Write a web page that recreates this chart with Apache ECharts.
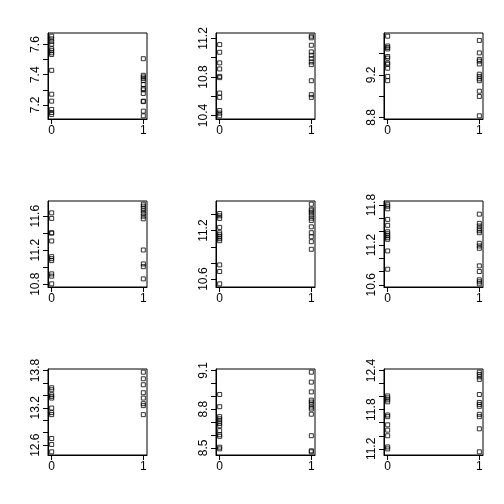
<!DOCTYPE html>
<html>
<head>
<meta charset="UTF-8">
<title>Scatter grid</title>
<script src="https://cdn.jsdelivr.net/npm/echarts@6/dist/echarts.min.js"></script>
</head>
<body style="margin:0;background:#fff">
<div id="chart" style="width:504px;height:504px;"></div>
<script>
// x positions of the two groups
var xGroups = [0, 1];

// panel 1 (row 1, col 1)
var p1Group0 = [7.655, 7.637, 7.62, 7.602, 7.572, 7.559, 7.545, 7.534, 7.429, 7.271, 7.225, 7.17, 7.15, 7.137];
var p1Group1 = [7.506, 7.396, 7.385, 7.374, 7.361, 7.335, 7.309, 7.30, 7.276, 7.225, 7.222, 7.159, 7.128];
var p1Ticks = [7.2, 7.3, 7.4, 7.5, 7.6];
var p1Labels = [7.2, 7.4, 7.6];

// panel 2
var p2Group0 = [11.136, 11.056, 10.946, 10.883, 10.806, 10.793, 10.633, 10.588, 10.452, 10.425, 10.397];
var p2Group1 = [11.223, 11.206, 11.129, 11.06, 11.025, 10.99, 10.956, 10.928, 10.761, 10.616, 10.588];
var p2Ticks = [10.4, 10.6, 10.8, 11.0, 11.2];
var p2Labels = [10.4, 10.8, 11.2];

// panel 3
var p3Group0 = [9.563, 9.471, 9.456, 9.443, 9.372, 9.357, 9.311, 9.299, 9.262, 9.185, 9.145];
var p3Group1 = [9.523, 9.406, 9.345, 9.329, 9.302, 9.206, 9.185, 9.163, 9.145, 9.046, 8.997, 8.815];
var p3Ticks = [8.8, 9.0, 9.2, 9.4];
var p3Labels = [8.8, 9.2];

// panel 4 (row 2)
var p4Group0 = [11.639, 11.574, 11.405, 11.40, 11.308, 11.124, 11.10, 11.077, 10.921, 10.894, 10.804];
var p4Group1 = [11.741, 11.718, 11.691, 11.663, 11.632, 11.60, 11.569, 11.202, 11.038, 11.006, 10.862];
var p4Ticks = [10.8, 11.0, 11.2, 11.4, 11.6];
var p4Labels = [10.8, 11.2, 11.6];

// panel 5
var p5Group0 = [11.412, 11.383, 11.351, 11.24, 11.174, 11.149, 11.124, 11.10, 11.075, 10.776, 10.694, 10.542];
var p5Group1 = [11.527, 11.465, 11.445, 11.42, 11.391, 11.354, 11.326, 11.247, 11.174, 11.124, 11.063, 10.969];
var p5Ticks = [10.6, 10.8, 11.0, 11.2, 11.4];
var p5Labels = [10.6, 11.2];

// panel 6
var p6Group0 = [11.814, 11.784, 11.744, 11.585, 11.495, 11.399, 11.369, 11.339, 11.309, 11.285, 11.11, 10.835];
var p6Group1 = [11.664, 11.525, 11.485, 11.444, 11.414, 11.384, 11.225, 11.185, 11.15, 10.885, 10.80, 10.675, 10.645, 10.615];
var p6Ticks = [10.6, 10.8, 11.0, 11.2, 11.4, 11.6, 11.8];
var p6Labels = [10.6, 11.2, 11.8];

// panel 7 (row 3)
var p7Group0 = [13.523, 13.491, 13.411, 13.384, 13.357, 13.197, 13.123, 13.091, 12.707, 12.611, 12.493];
var p7Group1 = [13.773, 13.667, 13.571, 13.443, 13.357, 13.267, 13.235, 13.091];
var p7Ticks = [12.6, 12.8, 13.0, 13.2, 13.4, 13.6, 13.8];
var p7Labels = [12.6, 13.2, 13.8];

// panel 8
var p8Group0 = [8.914, 8.819, 8.742, 8.725, 8.707, 8.689, 8.671, 8.633, 8.602, 8.589, 8.505, 8.492];
var p8Group1 = [9.087, 9.01, 8.934, 8.87, 8.855, 8.837, 8.816, 8.801, 8.761, 8.594, 8.477, 8.469];
var p8Ticks = [8.5, 8.6, 8.7, 8.8, 8.9, 9.0, 9.1];
var p8Labels = [8.5, 8.8, 9.1];

// panel 9
var p9Group0 = [12.011, 11.981, 11.95, 11.92, 11.719, 11.693, 11.568, 11.487, 11.401, 11.23, 11.20];
var p9Group1 = [12.374, 12.339, 12.304, 12.264, 12.032, 11.911, 11.881, 11.851, 11.729, 11.693, 11.507, 11.155];
var p9Ticks = [11.2, 11.4, 11.6, 11.8, 12.0, 12.2, 12.4];
var p9Labels = [11.2, 11.8, 12.4];

var panels = [
    {g0: p1Group0, g1: p1Group1, ticks: p1Ticks, labels: p1Labels},
    {g0: p2Group0, g1: p2Group1, ticks: p2Ticks, labels: p2Labels},
    {g0: p3Group0, g1: p3Group1, ticks: p3Ticks, labels: p3Labels},
    {g0: p4Group0, g1: p4Group1, ticks: p4Ticks, labels: p4Labels},
    {g0: p5Group0, g1: p5Group1, ticks: p5Ticks, labels: p5Labels},
    {g0: p6Group0, g1: p6Group1, ticks: p6Ticks, labels: p6Labels},
    {g0: p7Group0, g1: p7Group1, ticks: p7Ticks, labels: p7Labels},
    {g0: p8Group0, g1: p8Group1, ticks: p8Ticks, labels: p8Labels},
    {g0: p9Group0, g1: p9Group1, ticks: p9Ticks, labels: p9Labels}
];

var font = 'Liberation Sans, Arial, Helvetica, sans-serif';
var chart = echarts.init(document.getElementById('chart'));
var grid = [], xAxis = [], yAxis = [], series = [];

panels.forEach(function (p, i) {
    var row = Math.floor(i / 3), col = i % 3;
    grid.push({
        left: 48 + col * 168, top: 33 + row * 168, width: 99, height: 86,
        show: true, borderColor: '#000', borderWidth: 1, backgroundColor: 'transparent'
    });

    // R style range: data range padded by 4% each side
    var all = p.g0.concat(p.g1);
    var lo = Math.min.apply(null, all), hi = Math.max.apply(null, all);
    var pad = (hi - lo) * 0.04;

    xAxis.push({
        type: 'value', gridIndex: i, min: -0.04, max: 1.04,
        splitLine: {show: false},
        axisLine: {show: true, onZero: false, lineStyle: {color: '#000', width: 1}},
        axisTick: {show: true, length: 5, customValues: xGroups, lineStyle: {color: '#000'}},
        axisLabel: {customValues: xGroups, margin: 6, fontSize: 12, color: '#000', fontFamily: font}
    });
    yAxis.push({
        type: 'value', gridIndex: i, min: lo - pad, max: hi + pad,
        splitLine: {show: false},
        axisLine: {show: true, onZero: false, lineStyle: {color: '#000', width: 1}},
        axisTick: {show: true, length: 5, customValues: p.ticks, lineStyle: {color: '#000'}},
        axisLabel: {
            customValues: p.labels, rotate: 90, margin: 6, fontSize: 12, color: '#000', fontFamily: font,
            formatter: function (v) { return Number(v).toFixed(1); }
        }
    });

    var pts = p.g0.map(function (v) { return [0, v]; })
        .concat(p.g1.map(function (v) { return [1, v]; }));
    series.push({
        type: 'scatter', xAxisIndex: i, yAxisIndex: i, data: pts,
        symbol: 'rect', symbolSize: 4,
        itemStyle: {color: 'rgba(0,0,0,0)', borderColor: '#000', borderWidth: 1}
    });
});

chart.setOption({
    animation: false,
    backgroundColor: '#fff',
    grid: grid,
    xAxis: xAxis,
    yAxis: yAxis,
    series: series
});
</script>
</body>
</html>
